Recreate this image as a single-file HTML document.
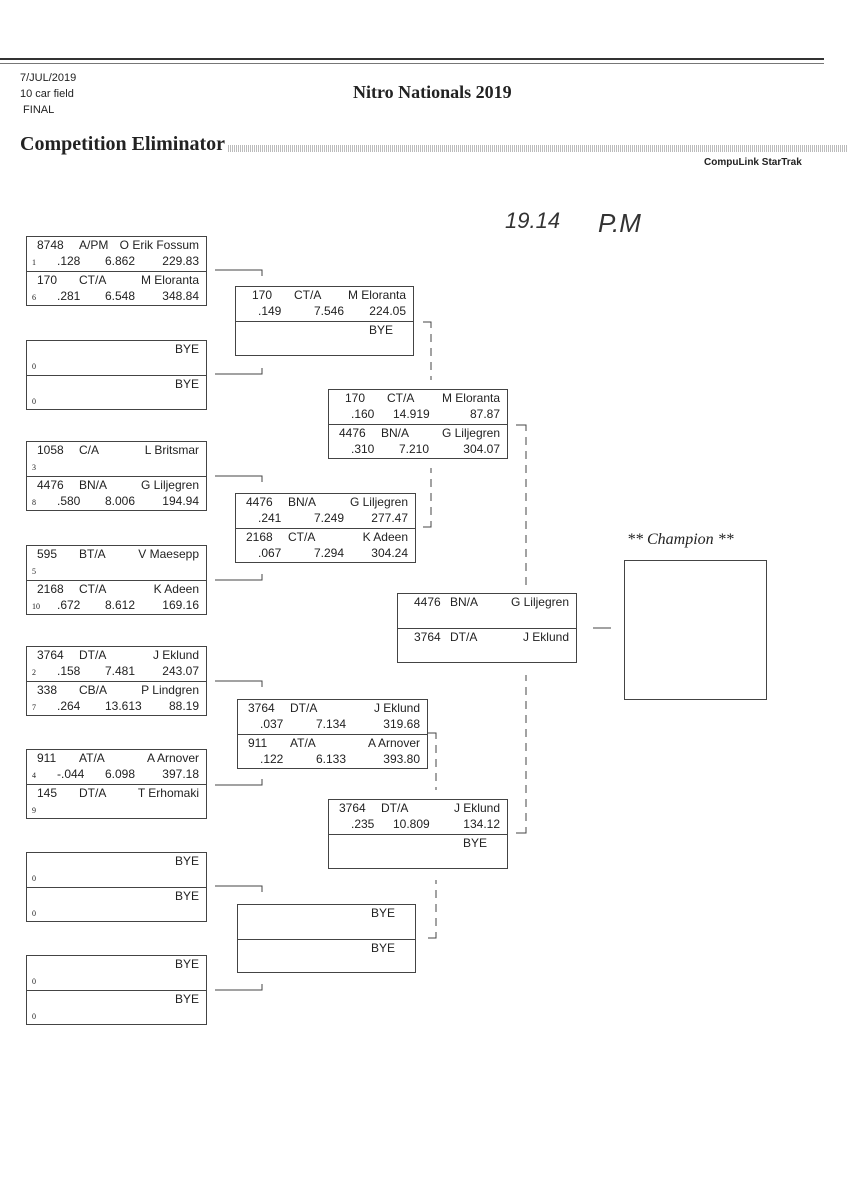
<!DOCTYPE html>
<html><head><meta charset="utf-8"><style>
body{margin:0;background:#fff;}
#p{position:relative;width:848px;height:1200px;overflow:hidden;font-family:"Liberation Sans",sans-serif;color:#222;}
.t{position:absolute;white-space:nowrap;}
.b{position:absolute;border:1px solid #444;box-sizing:border-box;}
.h{position:relative;height:34px;box-sizing:border-box;font-size:12px;}
.h+.h{border-top:1px solid #444;}
.h span{position:absolute;white-space:nowrap;}
.a{left:10px;top:1px}.c{left:52px;top:1px}.n{right:7px;top:1px}
.s{left:5px;top:21px;font-size:8px;font-family:"Liberation Serif",serif}
.r{left:30px;top:17px}.e{left:78px;top:17px}.v{right:7px;top:17px}
</style></head><body><div id="p">
<div class="t" style="left:0;top:58px;width:824px;height:3px;border-top:2px solid #333;border-bottom:1px solid #777"></div>
<div class="t" style="left:20px;top:70px;font-size:11px;line-height:16px">7/JUL/2019<br>10 car field<br>&nbsp;FINAL</div>
<div class="t" style="left:353px;top:82px;font-family:'Liberation Serif',serif;font-weight:bold;font-size:18px">Nitro Nationals 2019</div>
<div class="t" style="left:20px;top:133px;font-family:'Liberation Serif',serif;font-weight:bold;font-size:20px">Competition Eliminator</div>
<div class="t" style="left:228px;top:145px;width:620px;height:7px;background:repeating-linear-gradient(90deg,#bbb 0 1px,#fff 1px 2px)"></div>
<div class="t" style="left:704px;top:157px;font-size:10px;font-weight:bold">CompuLink StarTrak</div>
<div class="t" style="left:505px;top:208px;font-size:22px;font-style:italic;color:#333">19.14</div>
<div class="t" style="left:598px;top:208px;font-size:26px;font-style:italic;color:#333">P.M</div>

<div class="b" style="left:26px;top:236px;width:181px;height:70px"><div class="h"><span class="a">8748</span><span class="c">A/PM</span><span class="n">O Erik Fossum</span><span class="s">1</span><span class="r">.128</span><span class="e">6.862</span><span class="v">229.83</span></div><div class="h"><span class="a">170</span><span class="c">CT/A</span><span class="n">M Eloranta</span><span class="s">6</span><span class="r">.281</span><span class="e">6.548</span><span class="v">348.84</span></div></div>
<div class="b" style="left:26px;top:340px;width:181px;height:70px"><div class="h"><span class="n">BYE</span><span class="s">0</span></div><div class="h"><span class="n">BYE</span><span class="s">0</span></div></div>
<div class="b" style="left:26px;top:441px;width:181px;height:70px"><div class="h"><span class="a">1058</span><span class="c">C/A</span><span class="n">L Britsmar</span><span class="s">3</span></div><div class="h"><span class="a">4476</span><span class="c">BN/A</span><span class="n">G Liljegren</span><span class="s">8</span><span class="r">.580</span><span class="e">8.006</span><span class="v">194.94</span></div></div>
<div class="b" style="left:26px;top:545px;width:181px;height:70px"><div class="h"><span class="a">595</span><span class="c">BT/A</span><span class="n">V Maesepp</span><span class="s">5</span></div><div class="h"><span class="a">2168</span><span class="c">CT/A</span><span class="n">K Adeen</span><span class="s">10</span><span class="r">.672</span><span class="e">8.612</span><span class="v">169.16</span></div></div>
<div class="b" style="left:26px;top:646px;width:181px;height:70px"><div class="h"><span class="a">3764</span><span class="c">DT/A</span><span class="n">J Eklund</span><span class="s">2</span><span class="r">.158</span><span class="e">7.481</span><span class="v">243.07</span></div><div class="h"><span class="a">338</span><span class="c">CB/A</span><span class="n">P Lindgren</span><span class="s">7</span><span class="r">.264</span><span class="e">13.613</span><span class="v">88.19</span></div></div>
<div class="b" style="left:26px;top:749px;width:181px;height:70px"><div class="h"><span class="a">911</span><span class="c">AT/A</span><span class="n">A Arnover</span><span class="s">4</span><span class="r">-.044</span><span class="e">6.098</span><span class="v">397.18</span></div><div class="h"><span class="a">145</span><span class="c">DT/A</span><span class="n">T Erhomaki</span><span class="s">9</span></div></div>
<div class="b" style="left:26px;top:852px;width:181px;height:70px"><div class="h"><span class="n">BYE</span><span class="s">0</span></div><div class="h"><span class="n">BYE</span><span class="s">0</span></div></div>
<div class="b" style="left:26px;top:955px;width:181px;height:70px"><div class="h"><span class="n">BYE</span><span class="s">0</span></div><div class="h"><span class="n">BYE</span><span class="s">0</span></div></div>

<div class="b" style="left:235px;top:286px;width:179px;height:70px"><div class="h"><span class="a" style="left:16px">170</span><span class="c" style="left:58px">CT/A</span><span class="n">M Eloranta</span><span class="r" style="left:22px">.149</span><span class="e">7.546</span><span class="v">224.05</span></div><div class="h"><span class="n" style="right:20px">BYE</span></div></div>
<div class="b" style="left:235px;top:493px;width:181px;height:70px"><div class="h"><span class="a">4476</span><span class="c">BN/A</span><span class="n">G Liljegren</span><span class="r" style="left:22px">.241</span><span class="e">7.249</span><span class="v">277.47</span></div><div class="h"><span class="a">2168</span><span class="c">CT/A</span><span class="n">K Adeen</span><span class="r" style="left:22px">.067</span><span class="e">7.294</span><span class="v">304.24</span></div></div>
<div class="b" style="left:237px;top:699px;width:191px;height:70px"><div class="h"><span class="a">3764</span><span class="c">DT/A</span><span class="n">J Eklund</span><span class="r" style="left:22px">.037</span><span class="e">7.134</span><span class="v">319.68</span></div><div class="h"><span class="a">911</span><span class="c">AT/A</span><span class="n">A Arnover</span><span class="r" style="left:22px">.122</span><span class="e">6.133</span><span class="v">393.80</span></div></div>
<div class="b" style="left:237px;top:904px;width:179px;height:69px"><div class="h"><span class="n" style="right:20px">BYE</span></div><div class="h"><span class="n" style="right:20px">BYE</span></div></div>

<div class="b" style="left:328px;top:389px;width:180px;height:70px"><div class="h"><span class="a" style="left:16px">170</span><span class="c" style="left:58px">CT/A</span><span class="n">M Eloranta</span><span class="r" style="left:22px">.160</span><span class="e" style="left:64px">14.919</span><span class="v">87.87</span></div><div class="h"><span class="a">4476</span><span class="c">BN/A</span><span class="n">G Liljegren</span><span class="r" style="left:22px">.310</span><span class="e" style="left:70px">7.210</span><span class="v">304.07</span></div></div>
<div class="b" style="left:328px;top:799px;width:180px;height:70px"><div class="h"><span class="a">3764</span><span class="c">DT/A</span><span class="n">J Eklund</span><span class="r" style="left:22px">.235</span><span class="e" style="left:64px">10.809</span><span class="v">134.12</span></div><div class="h"><span class="n" style="right:20px">BYE</span></div></div>

<div class="b" style="left:397px;top:593px;width:180px;height:70px"><div class="h"><span class="a" style="left:16px">4476</span><span class="c" style="left:52px">BN/A</span><span class="n">G Liljegren</span></div><div class="h"><span class="a" style="left:16px">3764</span><span class="c" style="left:52px">DT/A</span><span class="n">J Eklund</span></div></div>

<div class="t" style="left:627px;top:531px;font-family:'Liberation Serif',serif;font-style:italic;font-size:16px">** Champion **</div>
<div class="b" style="left:624px;top:560px;width:143px;height:140px"></div>

<svg class="t" style="left:0;top:0" width="848" height="1200" fill="none" stroke="#444" stroke-width="1">
<path d="M215 270H262V276M215 374H262V368M215 476H262V482M215 580H262V574M215 681H262V687M215 785H262V779M215 886H262V892M215 990H262V984"/>
<path d="M423 322H431V328M423 527H431V521M428 733H436V739M428 938H436V932M516 425H526V431M516 833H526V827M593 628H611"/>
<path stroke-dasharray="8 6" d="M431 334V380M431 515V468M436 745V790M436 926V880M526 437V585M526 821V675"/>
</svg>
</div></body></html>
